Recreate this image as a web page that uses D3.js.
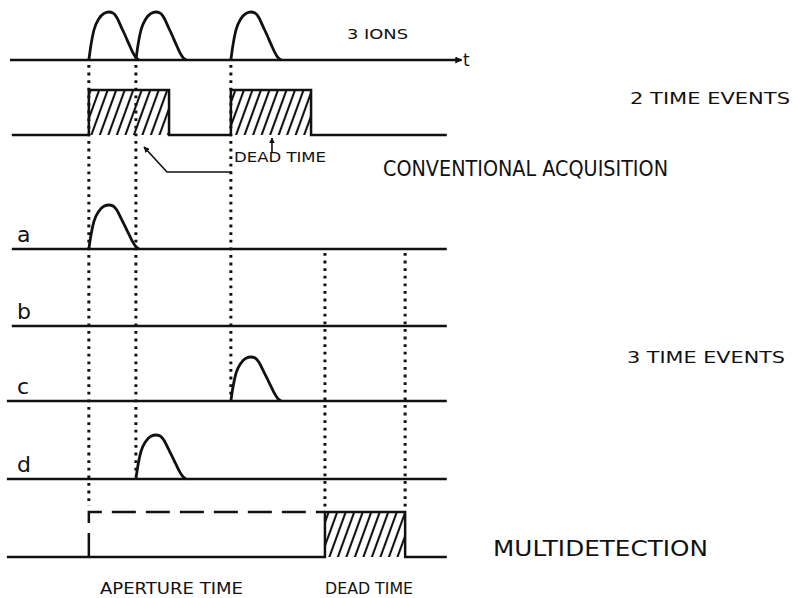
<!DOCTYPE html>
<html><head><meta charset="utf-8">
<script src="https://cdn.jsdelivr.net/npm/d3@7"></script>
<style>
body{margin:0;background:#fff}
svg{display:block}
text{font-family:"DejaVu Sans","Liberation Sans",Arial,sans-serif;fill:#111}
</style>
</head><body>
<script>
// ---------- data ----------
const ionTimes = [17.6, 28.1, 49.3];          // arrival times of the 3 ions
const conventionalTriggers = [17.6, 49.3];    // 2 time events
const deadTime = 17.9;
const pulseWidth = 11.2;
const detectorNames = ["a", "b", "c", "d"];
const hitsA = [17.6];
const hitsB = [];
const hitsC = [49.3];
const hitsD = [28.1];
const apertureWindow = [17.6, 70.3];
const multiDeadWindow = [70.3, 88.2];
const signalEnd = 97.5;
const pulseShapeU = [0, 0.04, 0.1, 0.2, 0.3, 0.4, 0.48, 0.56, 0.64, 0.72, 0.8, 0.88, 0.94, 1];
const pulseShapeA = [0, 0.3, 0.62, 0.86, 0.97, 1, 0.98, 0.88, 0.7, 0.52, 0.33, 0.15, 0.05, 0];
const labels = {
  ions: "3 IONS", conv2: "2 TIME EVENTS", conv: "CONVENTIONAL ACQUISITION",
  dead: "DEAD TIME", multi3: "3 TIME EVENTS", multi: "MULTIDETECTION",
  aperture: "APERTURE TIME"
};

// ---------- layout ----------
const W = 793, H = 598, INK = "#111";
const x = d3.scaleLinear().domain([0, 100]).range([10, 458]);
const rowBase = {ions: 60, conv: 135, a: 249, b: 326, c: 401, d: 479, multi: 557};
const levelH = 45;
const detHits = [hitsA, hitsB, hitsC, hitsD];

const svg = d3.select("body").append("svg").attr("width", W).attr("height", H);
const defs = svg.append("defs");
const pat = defs.append("pattern").attr("id", "hatch").attr("patternUnits", "userSpaceOnUse")
  .attr("width", 8).attr("height", 10).attr("patternTransform", "rotate(20)");
pat.append("line").attr("x1", 4).attr("x2", 4).attr("y1", -1).attr("y2", 11)
  .attr("stroke", INK).attr("stroke-width", 2.1);
defs.append("marker").attr("id", "arr").attr("viewBox", "0 0 10 10").attr("refX", 9).attr("refY", 5)
  .attr("markerWidth", 6).attr("markerHeight", 6).attr("markerUnits", "userSpaceOnUse").attr("orient", "auto")
  .append("path").attr("d", "M0,0L10,5L0,10z").attr("fill", INK);
defs.append("marker").attr("id", "arrT").attr("viewBox", "0 0 10 10").attr("refX", 9).attr("refY", 5)
  .attr("markerWidth", 9).attr("markerHeight", 7).attr("markerUnits", "userSpaceOnUse").attr("orient", "auto")
  .append("path").attr("d", "M0,0L10,5L0,10z").attr("fill", INK);

const lineGen = d3.line().curve(d3.curveMonotoneX);
const stepGen = d3.line().curve(d3.curveStepAfter);

function pulse(t0, yb, amp) {
  const pts = pulseShapeU.map((u, i) => [x(t0 + u * pulseWidth), yb - amp * pulseShapeA[i]]);
  svg.append("path").attr("d", lineGen(pts)).attr("fill", "none")
    .attr("stroke", INK).attr("stroke-width", 2.8).attr("stroke-linejoin", "round");
}
function hline(t0, t1, y, extra) {
  const l = svg.append("line").attr("x1", x(t0)).attr("x2", x(t1)).attr("y1", y).attr("y2", y)
    .attr("stroke", INK).attr("stroke-width", 2.5);
  if (extra) l.attr("marker-end", extra);
}
function dotted(t, y0, y1) {
  svg.append("line").attr("x1", x(t)).attr("x2", x(t)).attr("y1", y0).attr("y2", y1)
    .attr("stroke", INK).attr("stroke-width", 3).attr("stroke-dasharray", "2.8,4.8");
}
function hatchRect(t0, t1, yb) {
  svg.append("rect").attr("x", x(t0)).attr("y", yb - levelH).attr("width", x(t1) - x(t0))
    .attr("height", levelH).attr("fill", "url(#hatch)");
}
function txt(s, px, py, size, len) {
  const t = svg.append("text").attr("x", px).attr("y", py).attr("font-size", size).text(s);
  if (len) t.attr("textLength", len).attr("lengthAdjust", "spacingAndGlyphs");
  return t;
}

// dotted guides
ionTimes.forEach((t, i) => {
  const ends = [506, 476, 398];
  dotted(t, 65, ends[i]);
});
multiDeadWindow.forEach(t => dotted(t, 253, 509));

// top: 3 ions
hline(0, 100.8, rowBase.ions, "url(#arrT)");
ionTimes.forEach(t => pulse(t, rowBase.ions, 48));
txt("t", 463, 66, 17);
txt(labels.ions, 347, 39, 14, 61);

// conventional acquisition
conventionalTriggers.forEach(t => hatchRect(t, t + deadTime, rowBase.conv));
const convPts = [[0.4, 0]];
conventionalTriggers.forEach(t => { convPts.push([t, 1]); convPts.push([t + deadTime, 0]); });
convPts.push([signalEnd, 0]);
svg.append("path").attr("d", stepGen(convPts.map(d => [x(d[0]), rowBase.conv - levelH * d[1]])))
  .attr("fill", "none").attr("stroke", INK).attr("stroke-width", 2.5);
txt(labels.conv2, 630, 104, 15.5, 160);
txt(labels.dead, 234, 162, 14.5, 92);
txt(labels.conv, 383, 176, 21, 285);
// dead-time arrows
const midDead = conventionalTriggers[1] + deadTime / 2;
svg.append("line").attr("x1", x(midDead) + 1).attr("x2", x(midDead) + 1).attr("y1", 152).attr("y2", 138)
  .attr("stroke", INK).attr("stroke-width", 1.6).attr("marker-end", "url(#arr)");
svg.append("polyline").attr("points", [[232, 172], [167, 172], [144, 147]].join(" "))
  .attr("fill", "none").attr("stroke", INK).attr("stroke-width", 1.6).attr("marker-end", "url(#arr)");

// detectors a-d
detectorNames.forEach((n, i) => {
  const yb = rowBase[n];
  hline(i < 2 ? 0.4 : -0.7, signalEnd, yb);
  detHits[i].forEach(t => pulse(t, yb, 44));
  txt(n, 17, yb - 7, 22);
});
txt(labels.multi3, 627, 363, 15.5, 158);

// multidetection
hatchRect(multiDeadWindow[0], multiDeadWindow[1], rowBase.multi);
const multiPts = [[-0.7, 0], [multiDeadWindow[0], 1], [multiDeadWindow[1], 0], [signalEnd, 0]];
svg.append("path").attr("d", stepGen(multiPts.map(d => [x(d[0]), rowBase.multi - levelH * d[1]])))
  .attr("fill", "none").attr("stroke", INK).attr("stroke-width", 2.5);
svg.append("path")
  .attr("d", `M${x(apertureWindow[0])},${rowBase.multi}V${rowBase.multi - levelH}H${x(apertureWindow[1])}`)
  .attr("fill", "none").attr("stroke", INK).attr("stroke-width", 2.5).attr("stroke-dasharray", "24,10");
txt(labels.multi, 493, 556, 21, 215);
txt(labels.aperture, 100, 594, 15.5, 143);
txt(labels.dead, 325, 594, 15.5, 88);
</script>
</body></html>
